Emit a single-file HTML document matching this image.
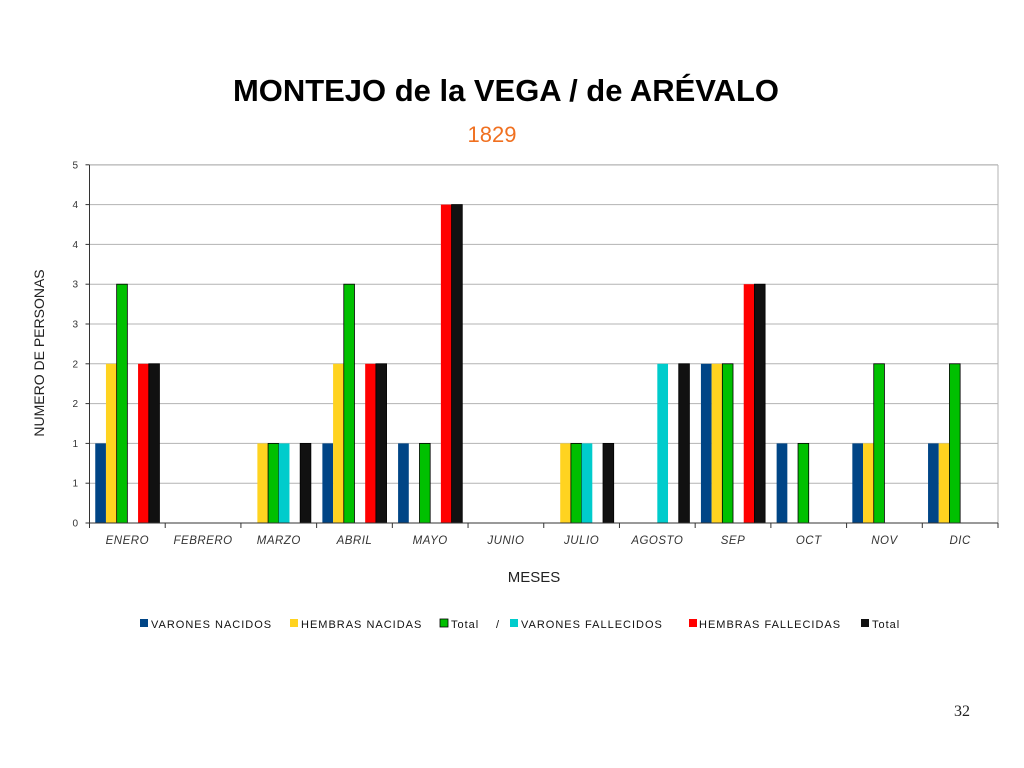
<!DOCTYPE html>
<html><head><meta charset="utf-8"><style>
body{margin:0;background:#fff;width:1024px;height:768px;overflow:hidden}
svg{display:block;font-family:"Liberation Sans",sans-serif}
</style></head><body>
<svg id="s" width="1024" height="768" xmlns="http://www.w3.org/2000/svg">
<text x="506" y="101" text-anchor="middle" font-size="31" font-weight="bold" fill="#000" textLength="546" lengthAdjust="spacingAndGlyphs">MONTEJO de la VEGA / de ARÉVALO</text>
<text x="492" y="142" text-anchor="middle" font-size="22" fill="#f07020">1829</text>
<g id="grid"></g>
<g id="bars"></g>
<text transform="translate(44,353) rotate(-90)" text-anchor="middle" font-size="14" fill="#222">NUMERO DE PERSONAS</text>
<text x="534" y="582" text-anchor="middle" font-size="15" fill="#222">MESES</text>
<g font-size="11" fill="#111" letter-spacing="1">
<rect x="140" y="619" width="8" height="8" fill="#004586"/><text x="151" y="628">VARONES NACIDOS</text>
<rect x="290" y="619" width="8" height="8" fill="#ffd320"/><text x="301" y="628">HEMBRAS NACIDAS</text>
<rect x="440" y="619" width="8" height="8" fill="#00c000" stroke="#000" stroke-width="0.8"/><text x="451" y="628">Total</text>
<text x="496" y="628">/</text>
<rect x="510" y="619" width="8" height="8" fill="#00cccc"/><text x="521" y="628">VARONES FALLECIDOS</text>
<rect x="689" y="619" width="8" height="8" fill="#ff0000"/><text x="699" y="628">HEMBRAS FALLECIDAS</text>
<rect x="861" y="619" width="8" height="8" fill="#111"/><text x="872" y="628">Total</text>
</g>
<text x="962" y="716" text-anchor="middle" font-size="16" font-family="Liberation Serif,serif" fill="#222">32</text>
</svg>
<script>
var ns="http://www.w3.org/2000/svg",g=document.getElementById('grid'),b=document.getElementById('bars');
function el(p,t,a,txt){var e=document.createElementNS(ns,t);for(var k in a)e.setAttribute(k,a[k]);if(txt!=null)e.textContent=txt;p.appendChild(e);return e;}
var x0=89.5,x1=998,y0=523,step=39.8;
var labs=["0","1","1","2","2","3","3","4","4","5"];
for(var i=0;i<10;i++){var y=y0-i*step;
 if(i>0)el(g,'line',{x1:x0,x2:x1,y1:y,y2:y,stroke:'#b3b3b3','stroke-width':1});
 el(g,'line',{x1:x0-4,x2:x0,y1:y,y2:y,stroke:'#333'});
 el(g,'text',{x:78,y:y+3.5,'font-size':10,'text-anchor':'end',fill:'#333'},labs[i]);}
el(g,'line',{x1:x0,x2:x1,y1:165,y2:165,stroke:'#b3b3b3'});
el(g,'line',{x1:x1,x2:x1,y1:165,y2:523,stroke:'#b3b3b3'});
var months=["ENERO","FEBRERO","MARZO","ABRIL","MAYO","JUNIO","JULIO","AGOSTO","SEP","OCT","NOV","DIC"];
var d=[[1,2,3,0,2,2],[0,0,0,0,0,0],[0,1,1,1,0,1],[1,2,3,0,2,2],[1,0,1,0,4,4],[0,0,0,0,0,0],[0,1,1,1,0,1],[0,0,0,2,0,2],[2,2,2,0,3,3],[1,0,1,0,0,0],[1,1,2,0,0,0],[1,1,2,0,0,0]];
var cols=["#004586","#ffd320","#00c000","#00cccc","#ff0000","#111111"];
var cw=(x1-x0)/12,bw=10.7,off=(cw-6*bw)/2;
for(var m=0;m<12;m++){var cx=x0+m*cw;
 for(var k=0;k<6;k++){var v=d[m][k];if(!v)continue;var h=v*2*step;
  var a={x:cx+off+k*bw,y:y0-h,width:bw,height:h,fill:cols[k]};
  if(k==2||k==5){a.stroke='#000';a['stroke-width']=0.8;}
  el(b,'rect',a);}
 el(b,'text',{x:cx+cw/2,y:544,'font-size':11.5,'font-style':'italic','text-anchor':'middle',fill:'#333','letter-spacing':0.5},months[m]);
 el(b,'line',{x1:cx,x2:cx,y1:y0,y2:y0+5,stroke:'#333'});}
el(b,'line',{x1:x1,x2:x1,y1:y0,y2:y0+5,stroke:'#333'});
el(b,'line',{x1:x0,x2:x0,y1:165,y2:y0,stroke:'#333'});
el(b,'line',{x1:x0,x2:x1,y1:y0,y2:y0,stroke:'#333'});
</script>
</body></html>
